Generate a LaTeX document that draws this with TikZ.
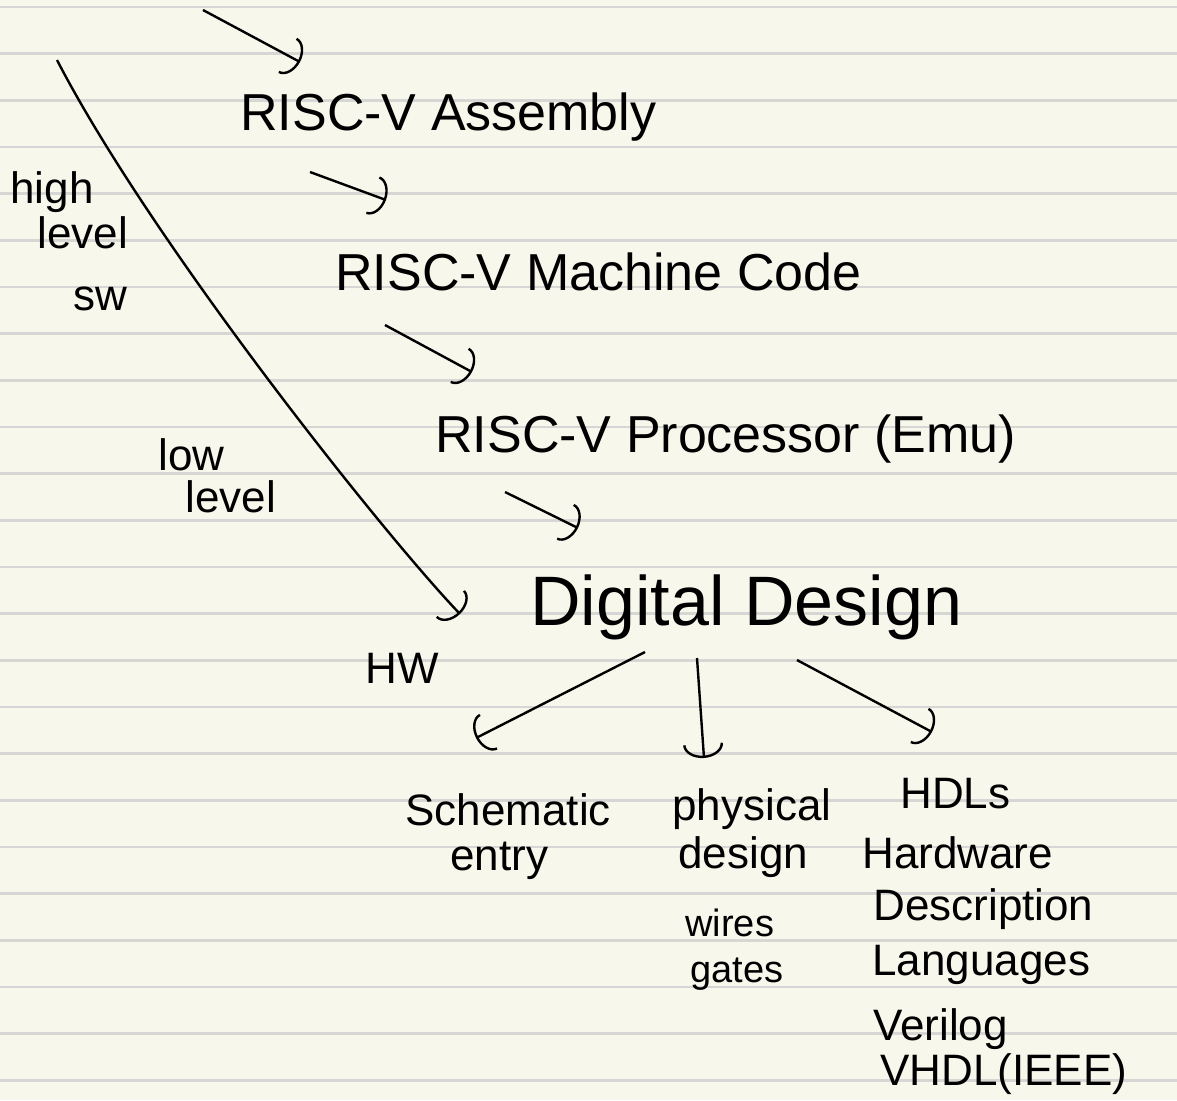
\documentclass[tikz,border=0pt]{standalone}
\usepackage{fontspec}
\setmainfont{Liberation Sans}
\usetikzlibrary{arrows.meta}
\definecolor{paper}{HTML}{F8F7EC}
\definecolor{ruleline}{HTML}{D6D6D4}

\begin{document}
\begin{tikzpicture}[x=0.5pt,y=-0.5pt]
\tikzset{every node/.style={inner sep=0pt,anchor=base west}}
\tikzset{step text/.style={font=\fontsize{26}{30}\selectfont}}
\tikzset{big text/.style={font=\fontsize{35}{40}\selectfont}}
\tikzset{note/.style={font=\fontsize{22}{26}\selectfont}}
\tikzset{small note/.style={font=\fontsize{19}{22}\selectfont}}
\tikzset{flow/.style={line width=1.2pt,-{Arc Barb[length=7pt,width=20pt]}}}
\tikzset{ruling/.style={draw=ruleline,line width=1.3pt}}
\useasboundingbox (0,0) rectangle (1177,1100);
\fill[paper] (0,0) rectangle (1177,1100);
\foreach \k in {0,...,23}
  \draw[ruling] (0,{7+46.67*\k}) -- (1177,{7+46.67*\k});
\node[step text] (asm) at (240,130) {RISC-V Assembly};
\node[step text] (mc) at (335,290) {RISC-V Machine Code};
\node[step text] (proc) at (435,452) {RISC-V Processor (Emu)};
\node[big text] (dd) at (530,625) {Digital Design};
\node[note] (high) at (10,203) {high};
\node[note] (hlevel) at (37,248) {level};
\node[note] (sw) at (73,310) {sw};
\node[note] (low) at (158,470) {low};
\node[note] (llevel) at (185,512) {level};
\node[note] (hw) at (365,683) {HW};
\node[note] (schem) at (405,825) {Schematic};
\node[note] (entry) at (450,870) {entry};
\node[note] (phys) at (672,820) {physical};
\node[note] (pdesign) at (678,868) {design};
\node[small note] (wires) at (685,936) {wires};
\node[small note] (gates) at (690,982) {gates};
\node[note] (hdls) at (900,808) {HDLs};
\node[note] (hwd) at (862,868) {Hardware};
\node[note] (descr) at (873,920) {Description};
\node[note] (lang) at (872,975) {Languages};
\node[note] (verilog) at (873,1040) {Verilog};
\node[note] (vhdl) at (880,1085) {VHDL(IEEE)};
\coordinate (start) at (203,10);
\coordinate (swtop) at (57,60);
\draw[flow] (start) -- ([shift={(60,-68)}]asm.base west);
\draw[flow] ([shift={(70,42)}]asm.base west) -- ([shift={(51,-90)}]mc.base west);
\draw[flow] ([shift={(50,35)}]mc.base west) -- ([shift={(37,-80)}]proc.base west);
\draw[flow] ([shift={(70,40)}]proc.base west) -- ([shift={(48,-97)}]dd.base west);
\draw[flow] (swtop) .. controls (150,240) and (380,530) .. ([shift={(-70,-11)}]dd.base west);
\draw[flow] ([shift={(115,27)}]dd.base west) -- ([shift={(71,-87)}]schem.base west);
\draw[flow] ([shift={(167,33)}]dd.base west) -- ([shift={(32,-62)}]phys.base west);
\draw[flow] ([shift={(267,35)}]dd.base west) -- ([shift={(32,-76)}]hdls.base west);
\end{tikzpicture}
\end{document}
